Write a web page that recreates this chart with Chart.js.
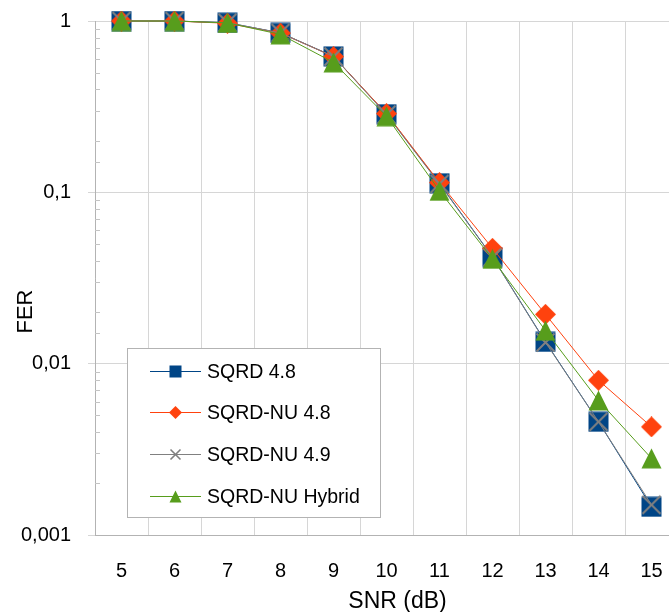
<!DOCTYPE html>
<html>
<head>
<meta charset="utf-8">
<title>FER vs SNR</title>
<script src="https://cdn.jsdelivr.net/npm/chart.js@4.4.1/dist/chart.umd.min.js"></script>
<style>
  html, body { margin: 0; padding: 0; background: #fff; overflow: hidden; }
  canvas { display: block; }
</style>
</head>
<body>
<canvas id="ferChart" width="678" height="612"></canvas>
<script>
// SNR points (dB)
var snrLabels = ['5', '6', '7', '8', '9', '10', '11', '12', '13', '14', '15'];

// frame error rate per detector
var sqrd48    = [1, 1, 0.977, 0.852, 0.622, 0.286, 0.113, 0.0419, 0.0134, 0.00458, 0.00146];
var sqrdNu48  = [1, 1, 0.970, 0.850, 0.620, 0.288, 0.114, 0.0471, 0.0194, 0.0080, 0.00428];
var sqrdNu49  = [1, 1, 0.977, 0.852, 0.620, 0.284, 0.112, 0.0418, 0.0133, 0.00458, 0.00150];
var sqrdHybrid = [1, 1, 0.975, 0.835, 0.573, 0.278, 0.102, 0.0409, 0.0156, 0.0061, 0.0028];

// decade labels on the FER axis
var decadeValues = [1, 0.1, 0.01, 0.001];
var decadeLabels = ['1', '0,1', '0,01', '0,001'];

var FONT = 'Liberation Sans, Arial, sans-serif';
var GRID = '#d6d6d6';
var AXIS = '#b3b3b3';

function decadeIndex(v) {
  for (var i = 0; i < decadeValues.length; i++) {
    if (Math.abs(v - decadeValues[i]) < decadeValues[i] * 1e-6) return i;
  }
  return -1;
}

// marker bitmaps, so each symbol sits centred on its point
function makeMarker(shape, color, size) {
  var c = document.createElement('canvas');
  c.width = size; c.height = size;
  var g = c.getContext('2d');
  var s = size;
  g.fillStyle = color;
  g.strokeStyle = color;
  if (shape === 'square') {
    g.fillRect(0.5, 0.5, s - 1, s - 1);
  } else if (shape === 'diamond') {
    g.beginPath();
    g.moveTo(s / 2, 0); g.lineTo(s, s / 2); g.lineTo(s / 2, s); g.lineTo(0, s / 2);
    g.closePath(); g.fill();
  } else if (shape === 'triangle') {
    g.beginPath();
    g.moveTo(s / 2, 0.5); g.lineTo(s - 0.5, s - 0.5); g.lineTo(0.5, s - 0.5);
    g.closePath(); g.fill();
  } else if (shape === 'cross') {
    g.lineWidth = s > 15 ? 2 : 1.6;
    g.beginPath();
    g.moveTo(1.5, 1.5); g.lineTo(s - 1.5, s - 1.5);
    g.moveTo(s - 1.5, 1.5); g.lineTo(1.5, s - 1.5);
    g.stroke();
  }
  return c;
}

var series = [
  { label: 'SQRD 4.8',        data: sqrd48,     color: '#004586', shape: 'square',   order: 3 },
  { label: 'SQRD-NU 4.8',     data: sqrdNu48,   color: '#ff420e', shape: 'diamond',  order: 2 },
  { label: 'SQRD-NU 4.9',     data: sqrdNu49,   color: '#808080', shape: 'cross',    order: 1 },
  { label: 'SQRD-NU Hybrid',  data: sqrdHybrid, color: '#579d1c', shape: 'triangle', order: 0 }
];

series.forEach(function (s) {
  s.marker = makeMarker(s.shape, s.color, 21);
  s.legendMarker = makeMarker(s.shape, s.color, 13);
});

// short inner ticks for the 2..9 steps of each decade
var minorTicks = {
  id: 'minorTicks',
  beforeDatasetsDraw: function (chart) {
    var y = chart.scales.y, ctx = chart.ctx, left = chart.chartArea.left;
    ctx.save();
    ctx.strokeStyle = '#c4c4c4';
    ctx.lineWidth = 1;
    ctx.beginPath();
    y.ticks.forEach(function (t) {
      if (decadeIndex(t.value) < 0) {
        var py = Math.round(y.getPixelForValue(t.value)) + 0.5;
        ctx.moveTo(left, py);
        ctx.lineTo(left + 5, py);
      }
    });
    ctx.stroke();
    ctx.restore();
  }
};

// axis titles
var axisTitles = {
  id: 'axisTitles',
  afterDraw: function (chart) {
    var ctx = chart.ctx;
    ctx.save();
    ctx.fillStyle = '#000';
    ctx.textAlign = 'center';
    ctx.textBaseline = 'alphabetic';
    ctx.font = '23px ' + FONT;
    ctx.fillText('SNR (dB)', 397.5, 608);
    ctx.translate(32, 311.5);
    ctx.rotate(-Math.PI / 2);
    ctx.font = '22px ' + FONT;
    ctx.fillText('FER', 0, 0);
    ctx.restore();
  }
};

// boxed legend inside the plot
var boxLegend = {
  id: 'boxLegend',
  afterDatasetsDraw: function (chart) {
    var ctx = chart.ctx;
    var bx = 127.5, by = 348.5, bw = 253, bh = 169;
    ctx.save();
    ctx.fillStyle = '#fff';
    ctx.strokeStyle = AXIS;
    ctx.lineWidth = 1;
    ctx.fillRect(bx, by, bw, bh);
    ctx.strokeRect(bx, by, bw, bh);
    ctx.font = '19.5px ' + FONT;
    ctx.textBaseline = 'middle';
    ctx.textAlign = 'left';
    series.forEach(function (s, i) {
      var ry = 370.5 + i * 41.7;
      var yy = Math.round(ry) + 0.5;
      ctx.strokeStyle = s.color;
      ctx.beginPath();
      ctx.moveTo(150, yy);
      ctx.lineTo(201, yy);
      ctx.stroke();
      ctx.drawImage(s.legendMarker, 175.5 - 6.5, yy - 6.5);
      ctx.fillStyle = '#000';
      ctx.fillText(s.label, 207, yy + 1);
    });
    ctx.restore();
  }
};

var ctx = document.getElementById('ferChart').getContext('2d');
var ferChart = new Chart(ctx, {
  type: 'line',
  data: {
    labels: snrLabels,
    datasets: series.map(function (s) {
      return {
        label: s.label,
        data: s.data,
        order: s.order,
        borderColor: s.color,
        backgroundColor: s.color,
        borderWidth: 1,
        tension: 0,
        fill: false,
        clip: false,
        pointStyle: s.marker,
        pointRadius: 11,
        pointBorderWidth: 0
      };
    })
  },
  options: {
    responsive: false,
    animation: false,
    events: [],
    layout: { autoPadding: false, padding: { top: 21, right: 0, bottom: 0, left: 0 } },
    plugins: {
      legend: { display: false },
      tooltip: { enabled: false }
    },
    scales: {
      x: {
        type: 'category',
        offset: true,
        grid: { offset: true, color: GRID, drawTicks: false },
        border: { color: AXIS },
        ticks: {
          color: '#000',
          font: { family: FONT, size: 20 },
          padding: 24,
          maxRotation: 0,
          autoSkip: false
        },
        afterFit: function (scale) {
          scale.height = 77;
          scale.paddingLeft = 0;
          scale.paddingRight = 0;
        }
      },
      y: {
        type: 'logarithmic',
        min: 0.001,
        max: 1,
        grid: {
          color: function (c) { return decadeIndex(c.tick.value) >= 0 ? GRID : 'rgba(0,0,0,0)'; },
          tickColor: function (c) { return decadeIndex(c.tick.value) >= 0 ? GRID : 'rgba(0,0,0,0)'; },
          tickLength: 7
        },
        border: { color: AXIS },
        ticks: {
          autoSkip: false,
          color: '#000',
          font: { family: FONT, size: 20 },
          padding: 17,
          callback: function (value) {
            var i = decadeIndex(value);
            return i >= 0 ? decadeLabels[i] : '';
          }
        },
        afterFit: function (scale) {
          scale.width = 95;
          scale.paddingTop = 0;
          scale.paddingBottom = 0;
        }
      }
    }
  },
  plugins: [minorTicks, boxLegend, axisTitles]
});
</script>
</body>
</html>
